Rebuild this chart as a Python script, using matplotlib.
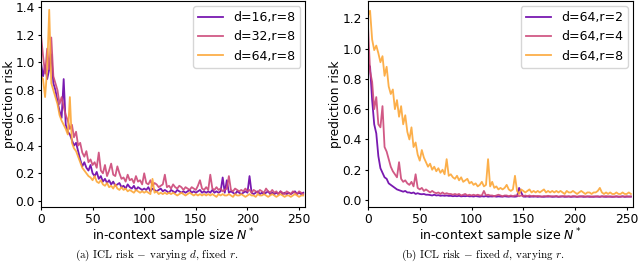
import numpy as np
import matplotlib
matplotlib.use("Agg")
import matplotlib.pyplot as plt

# in-context sample size, every 2nd value
n_ctx = np.arange(0, 256, 2)

# (a) varying d, fixed r=8
risk_d16 = [
    1.00, 0.90, 0.98, 0.88, 0.95, 1.06, 0.85, 0.80, 0.72, 0.65,
    0.60, 0.88, 0.55, 0.50, 0.48, 0.44, 0.40, 0.42, 0.36, 0.30,
    0.25, 0.28, 0.24, 0.22, 0.26, 0.20, 0.18, 0.21, 0.16, 0.18,
    0.14, 0.16, 0.13, 0.15, 0.12, 0.14, 0.11, 0.12, 0.13, 0.10,
    0.11, 0.09, 0.12, 0.10, 0.09, 0.11, 0.08, 0.10, 0.09, 0.08,
    0.09, 0.08, 0.10, 0.07, 0.09, 0.08, 0.07, 0.08, 0.09, 0.07,
    0.08, 0.07, 0.06, 0.08, 0.07, 0.06, 0.08, 0.07, 0.06, 0.07,
    0.06, 0.07, 0.08, 0.06, 0.07, 0.06, 0.07, 0.08, 0.06, 0.07,
    0.06, 0.07, 0.06, 0.08, 0.06, 0.07, 0.06, 0.07, 0.17, 0.06,
    0.15, 0.06, 0.07, 0.06, 0.05, 0.07, 0.06, 0.05, 0.06, 0.07,
    0.06, 0.18, 0.06, 0.05, 0.06, 0.07, 0.05, 0.06, 0.05, 0.06,
    0.07, 0.05, 0.06, 0.05, 0.06, 0.05, 0.07, 0.05, 0.06, 0.05,
    0.06, 0.05, 0.06, 0.07, 0.05, 0.06, 0.05, 0.06,
]
risk_d32 = [
    1.20, 1.05, 0.92, 1.10, 0.95, 1.18, 0.90, 0.85, 0.80, 0.70,
    0.75, 0.68, 0.62, 0.58, 0.52, 0.55, 0.46, 0.50, 0.40, 0.42,
    0.35, 0.32, 0.36, 0.28, 0.30, 0.26, 0.28, 0.24, 0.35, 0.22,
    0.20, 0.26, 0.18, 0.22, 0.27, 0.19, 0.18, 0.25, 0.20, 0.16,
    0.17, 0.14, 0.19, 0.15, 0.16, 0.13, 0.18, 0.14, 0.15, 0.12,
    0.20, 0.13, 0.12, 0.15, 0.11, 0.13, 0.12, 0.10, 0.11, 0.12,
    0.19, 0.10, 0.11, 0.09, 0.12, 0.10, 0.09, 0.11, 0.10, 0.08,
    0.10, 0.09, 0.08, 0.10, 0.09, 0.08, 0.11, 0.15, 0.09, 0.08,
    0.10, 0.08, 0.19, 0.09, 0.08, 0.10, 0.08, 0.09, 0.07, 0.08,
    0.09, 0.18, 0.08, 0.07, 0.09, 0.08, 0.07, 0.08, 0.07, 0.09,
    0.07, 0.08, 0.06, 0.08, 0.07, 0.06, 0.08, 0.07, 0.06, 0.09,
    0.07, 0.06, 0.08, 0.06, 0.07, 0.05, 0.07, 0.06, 0.05, 0.07,
    0.06, 0.05, 0.07, 0.06, 0.05, 0.07, 0.06, 0.05,
]
risk_d64 = [
    0.90, 0.88, 0.75, 0.95, 1.38, 0.85, 0.80, 0.75, 0.70, 0.62,
    0.58, 0.55, 0.52, 0.48, 0.75, 0.42, 0.38, 0.36, 0.32, 0.28,
    0.24, 0.22, 0.20, 0.18, 0.17, 0.15, 0.18, 0.14, 0.13, 0.15,
    0.12, 0.11, 0.13, 0.10, 0.11, 0.09, 0.12, 0.09, 0.08, 0.10,
    0.08, 0.09, 0.07, 0.08, 0.07, 0.06, 0.08, 0.07, 0.06, 0.07,
    0.06, 0.07, 0.06, 0.05, 0.16, 0.06, 0.07, 0.05, 0.06, 0.05,
    0.06, 0.05, 0.06, 0.05, 0.06, 0.05, 0.04, 0.05, 0.06, 0.05,
    0.04, 0.05, 0.06, 0.05, 0.04, 0.05, 0.04, 0.05, 0.04, 0.05,
    0.04, 0.05, 0.04, 0.05, 0.04, 0.03, 0.05, 0.04, 0.05, 0.04,
    0.04, 0.05, 0.04, 0.03, 0.05, 0.04, 0.04, 0.05, 0.04, 0.03,
    0.04, 0.05, 0.04, 0.04, 0.03, 0.05, 0.04, 0.04, 0.05, 0.04,
    0.03, 0.04, 0.05, 0.04, 0.03, 0.04, 0.05, 0.04, 0.03, 0.04,
    0.04, 0.03, 0.04, 0.05, 0.04, 0.03, 0.04, 0.04,
]

# (b) fixed d=64, varying r
risk_r2 = [
    0.90, 0.88, 0.66, 0.50, 0.44, 0.29, 0.21, 0.18, 0.15, 0.14,
    0.11, 0.10, 0.09, 0.08, 0.07, 0.065, 0.06, 0.055, 0.06, 0.05,
    0.05, 0.045, 0.05, 0.04, 0.045, 0.04, 0.038, 0.04, 0.035, 0.035,
    0.033, 0.03, 0.035, 0.03, 0.032, 0.028, 0.03, 0.028, 0.03, 0.027,
    0.028, 0.025, 0.027, 0.025, 0.028, 0.024, 0.026, 0.025, 0.027, 0.024,
    0.025, 0.023, 0.026, 0.024, 0.022, 0.025, 0.023, 0.026, 0.022, 0.024,
    0.023, 0.025, 0.022, 0.024, 0.023, 0.022, 0.025, 0.023, 0.022, 0.024,
    0.023, 0.022, 0.024, 0.08, 0.05, 0.023, 0.022, 0.024, 0.021, 0.023,
    0.022, 0.024, 0.021, 0.023, 0.022, 0.021, 0.023, 0.022, 0.024, 0.021,
    0.022, 0.023, 0.021, 0.022, 0.024, 0.021, 0.022, 0.023, 0.021, 0.022,
    0.023, 0.021, 0.022, 0.024, 0.021, 0.022, 0.023, 0.021, 0.022, 0.021,
    0.023, 0.022, 0.021, 0.024, 0.022, 0.021, 0.023, 0.022, 0.021, 0.022,
    0.023, 0.021, 0.022, 0.024, 0.021, 0.022, 0.023, 0.022,
]
risk_r4 = [
    1.15, 0.85, 0.78, 0.60, 0.68, 0.50, 0.48, 0.62, 0.35, 0.32,
    0.27, 0.22, 0.19, 0.17, 0.15, 0.25, 0.14, 0.12, 0.13, 0.11,
    0.10, 0.12, 0.09, 0.17, 0.08, 0.07, 0.08, 0.06, 0.07, 0.06,
    0.05, 0.06, 0.05, 0.045, 0.05, 0.04, 0.05, 0.04, 0.045, 0.04,
    0.04, 0.035, 0.04, 0.035, 0.04, 0.03, 0.035, 0.04, 0.03, 0.035,
    0.03, 0.035, 0.03, 0.035, 0.03, 0.03, 0.06, 0.03, 0.035, 0.03,
    0.03, 0.025, 0.03, 0.035, 0.03, 0.025, 0.03, 0.03, 0.025, 0.03,
    0.025, 0.03, 0.03, 0.025, 0.03, 0.025, 0.03, 0.025, 0.03, 0.025,
    0.028, 0.024, 0.027, 0.025, 0.022, 0.026, 0.024, 0.028, 0.023, 0.025,
    0.024, 0.027, 0.022, 0.025, 0.024, 0.026, 0.023, 0.025, 0.022, 0.026,
    0.024, 0.022, 0.025, 0.023, 0.026, 0.022, 0.024, 0.025, 0.022, 0.024,
    0.023, 0.025, 0.022, 0.024, 0.023, 0.026, 0.022, 0.024, 0.023, 0.022,
    0.025, 0.023, 0.022, 0.024, 0.023, 0.025, 0.022, 0.024,
]
risk_r8 = [
    1.22, 1.25, 1.06, 0.99, 1.02, 0.97, 0.91, 0.95, 0.82, 0.88,
    0.75, 0.70, 0.73, 0.60, 0.66, 0.55, 0.62, 0.50, 0.56, 0.45,
    0.40, 0.48, 0.35, 0.38, 0.30, 0.26, 0.33, 0.28, 0.25, 0.22,
    0.24, 0.20, 0.22, 0.19, 0.21, 0.18, 0.20, 0.17, 0.27, 0.16,
    0.17, 0.15, 0.14, 0.16, 0.13, 0.15, 0.12, 0.13, 0.14, 0.11,
    0.12, 0.10, 0.11, 0.09, 0.10, 0.12, 0.09, 0.10, 0.27, 0.09,
    0.12, 0.08, 0.09, 0.07, 0.08, 0.07, 0.08, 0.10, 0.07, 0.06,
    0.07, 0.16, 0.06, 0.04, 0.07, 0.06, 0.05, 0.06, 0.07, 0.05,
    0.06, 0.05, 0.06, 0.05, 0.06, 0.07, 0.05, 0.06, 0.05, 0.06,
    0.05, 0.06, 0.05, 0.06, 0.05, 0.04, 0.06, 0.05, 0.05, 0.06,
    0.05, 0.04, 0.05, 0.06, 0.05, 0.04, 0.05, 0.05, 0.04, 0.05,
    0.05, 0.06, 0.08, 0.05, 0.04, 0.05, 0.04, 0.05, 0.04, 0.04,
    0.05, 0.04, 0.04, 0.05, 0.04, 0.04, 0.05, 0.04,
]

labels_a = ["d=16,r=8", "d=32,r=8", "d=64,r=8"]
labels_b = ["d=64,r=2", "d=64,r=4", "d=64,r=8"]
colors = ["#6a00a8", "#cc4778", "#fca636"]

plt.rcParams["mathtext.fontset"] = "dejavusans"

fig = plt.figure(figsize=(6.4, 2.63), dpi=100)
ax1 = fig.add_axes([0.064, 0.213, 0.413, 0.783])
ax2 = fig.add_axes([0.575, 0.213, 0.414, 0.783])

for ax, series, labels, ylim, yt, ylab_x in [
    (ax1, [risk_d16, risk_d32, risk_d64], labels_a, (-0.043, 1.443), np.arange(0, 1.41, 0.2), -0.095),
    (ax2, [risk_r2, risk_r4, risk_r8], labels_b, (-0.046, 1.314), np.arange(0, 1.21, 0.2), -0.098),
]:
    for vals, lab, c in zip(series, labels, colors):
        ax.plot(n_ctx, vals, color=c, lw=1.3, alpha=0.9, label=lab)
    ax.set_xlim(0, 256)
    ax.set_ylim(*ylim)
    ax.set_xticks([0, 50, 100, 150, 200, 250])
    ax.set_yticks(yt)
    ax.tick_params(labelsize=8.8, length=2.5, pad=1.8)
    ax.set_xlabel(r"in-context sample size $N^*$", fontsize=9, labelpad=0.5)
    ax.set_ylabel("prediction risk", fontsize=8.8)
    ax.yaxis.set_label_coords(ylab_x, 0.5)
    ax.legend(loc="upper right", fontsize=9, borderaxespad=0.4)

cap_font = ["cmr10", "DejaVu Serif"]
fig.text(0.245, 0.03, r"(a) ICL risk $-$ varying $\mathit{d}$, fixed $\mathit{r}$.", ha="center", va="center",
         fontsize=8, family=cap_font, math_fontfamily="cm")
fig.text(0.755, 0.03, r"(b) ICL risk $-$ fixed $\mathit{d}$, varying $\mathit{r}$.", ha="center", va="center",
         fontsize=8, family=cap_font, math_fontfamily="cm")

fig.savefig("out.png", dpi=100)
